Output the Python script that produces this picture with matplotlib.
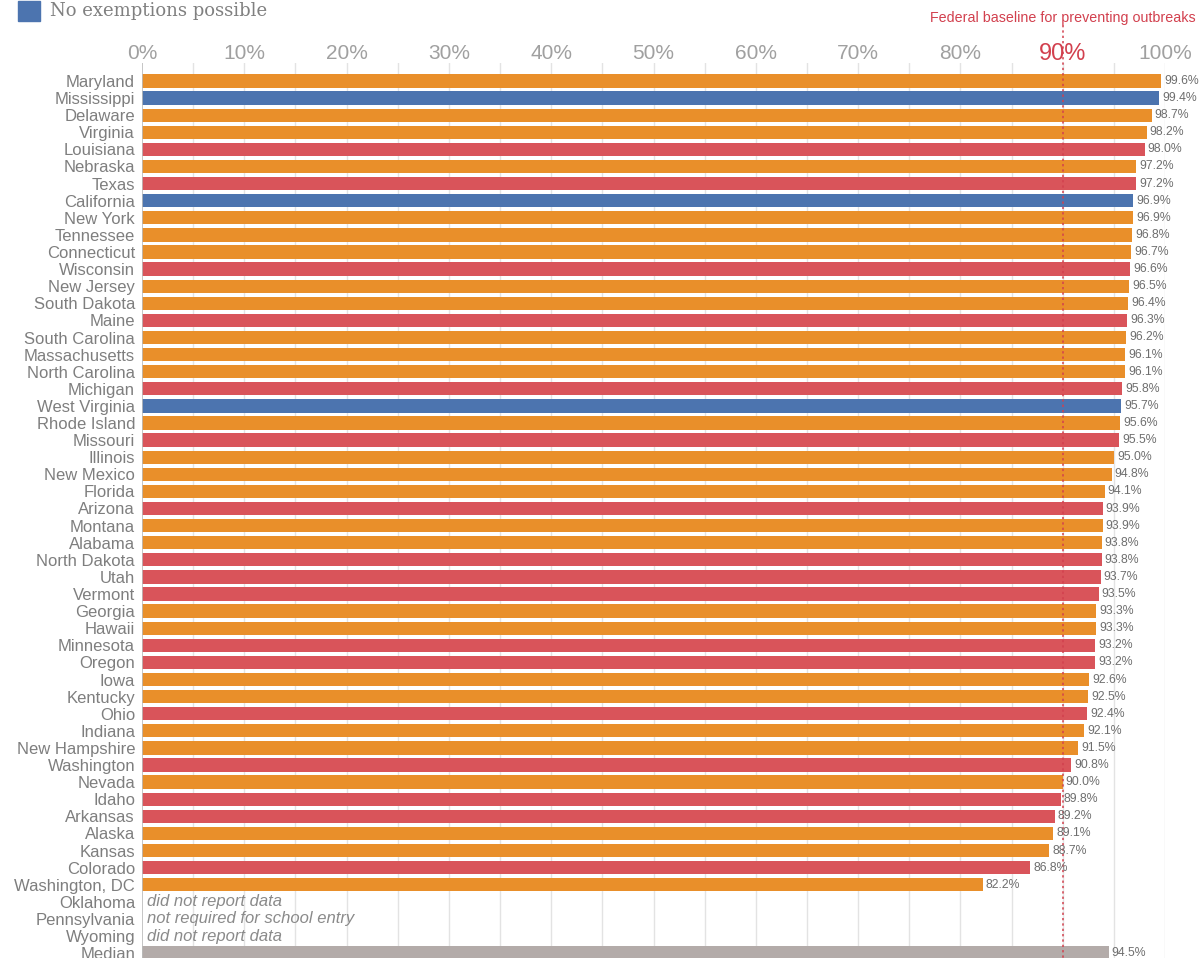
import matplotlib.pyplot as plt
import numpy as np

states = ["Maryland", "Mississippi", "Delaware", "Virginia", "Louisiana", "Nebraska",
          "Texas", "California", "New York", "Tennessee", "Connecticut", "Wisconsin",
          "New Jersey", "South Dakota", "Maine", "South Carolina", "Massachusetts",
          "North Carolina", "Michigan", "West Virginia", "Rhode Island", "Missouri",
          "Illinois", "New Mexico", "Florida", "Arizona", "Montana", "Alabama",
          "North Dakota", "Utah", "Vermont", "Georgia", "Hawaii", "Minnesota", "Oregon",
          "Iowa", "Kentucky", "Ohio", "Indiana", "New Hampshire", "Washington", "Nevada",
          "Idaho", "Arkansas", "Alaska", "Kansas", "Colorado", "Washington, DC"]
rates = [99.6, 99.4, 98.7, 98.2, 98.0, 97.2, 97.2, 96.9, 96.9, 96.8, 96.7, 96.6,
         96.5, 96.4, 96.3, 96.2, 96.1, 96.1, 95.8, 95.7, 95.6, 95.5, 95.0, 94.8,
         94.1, 93.9, 93.9, 93.8, 93.8, 93.7, 93.5, 93.3, 93.3, 93.2, 93.2, 92.6,
         92.5, 92.4, 92.1, 91.5, 90.8, 90.0, 89.8, 89.2, 89.1, 88.7, 86.8, 82.2]
# O = orange, R = red, B = blue (no exemptions possible)
groups = ["O", "B", "O", "O", "R", "O", "R", "B", "O", "O", "O", "R",
          "O", "O", "R", "O", "O", "O", "R", "B", "O", "R", "O", "O",
          "O", "R", "O", "O", "R", "R", "R", "O", "O", "R", "R", "O",
          "O", "R", "O", "O", "R", "O", "R", "R", "O", "O", "R", "O"]

missing_states = ["Oklahoma", "Pennsylvania", "Wyoming"]
missing_notes = ["did not report data", "not required for school entry", "did not report data"]

median_value = 94.5
baseline = 90

group_colors = {"O": "#E98F2A", "R": "#D9545A", "B": "#4C74AF"}
median_color = "#B3ABA9"
label_gray = "#7E7E7E"
red_line = "#D2404E"

W, H = 1203, 958
fig = plt.figure(figsize=(W / 100, H / 100), dpi=100)
plt.rcParams['font.family'] = ['Liberation Sans', 'DejaVu Sans']

row_h = 17.1
first_row_px = 81
x0_px, x100_px = 142, 1165
n_rows = len(states) + len(missing_states) + 1
ymin = -1.05
ymax = (H - first_row_px) / row_h
top_px = first_row_px + ymin * row_h
ax = fig.add_axes([x0_px / W, 0, (x100_px - x0_px) / W, (H - top_px) / H])
ax.set_xlim(0, 100)
ax.set_ylim(ymax, ymin)

# grid every 5%
for g in np.arange(5, 101, 5):
    ax.axvline(g, color="#E3E3E3", lw=1, zorder=0)
ax.axvline(0, color="#BBBBBB", lw=1.2, zorder=3)

y_pos = np.arange(len(states))
ax.barh(y_pos, rates, height=0.78, color=[group_colors[g] for g in groups], zorder=2)
for y, v in zip(y_pos, rates):
    ax.text(v + 0.3, y, f"{v:.1f}%", fontsize=8.8, color="#6E6E6E",
            va="center", ha="left", zorder=5, clip_on=False)

miss_pos = np.arange(len(states), len(states) + len(missing_states))
for y, note in zip(miss_pos, missing_notes):
    ax.text(0.5, y, note, fontsize=12, style="italic", color="#8A8A8A",
            va="center", ha="left")

median_y = n_rows - 1
ax.barh([median_y], [median_value], height=0.78, color=median_color, zorder=2)
ax.text(median_value + 0.3, median_y, f"{median_value:.1f}%", fontsize=8.8,
        color="#6E6E6E", va="center", ha="left", zorder=5)

labels = states + missing_states + ["Median"]
ax.set_yticks(np.arange(n_rows))
ax.set_yticklabels(labels, fontsize=12, color=label_gray)
ax.tick_params(axis="y", length=0, pad=5)

ax.set_xticks([])
for spine in ax.spines.values():
    spine.set_visible(False)

# top tick labels
for t in range(0, 101, 10):
    is_base = t == baseline
    ax.text(t, -1.6, f"{t}%", ha="center", va="center",
            fontsize=17 if is_base else 15,
            color=red_line if is_base else "#A0A0A0", clip_on=False)

# federal baseline line
ax.plot([baseline, baseline], [-3.25, ymax], color=red_line, lw=1.1,
        ls=(0, (1.5, 2)), zorder=4, clip_on=False)
ax.text(baseline, -3.7, "Federal baseline for preventing outbreaks",
        ha="center", va="center", fontsize=10.3, color=red_line, clip_on=False)

# legend fragment
fig.patches.append(plt.Rectangle((18 / W, 1 - 21 / H), 22 / W, 20 / H,
                                 transform=fig.transFigure, color=group_colors["B"]))
fig.text(50 / W, 1 - 11 / H, "No exemptions possible", fontsize=13,
         family="DejaVu Serif", color="#808080", va="center", ha="left")

fig.savefig("out.png", dpi=100)
